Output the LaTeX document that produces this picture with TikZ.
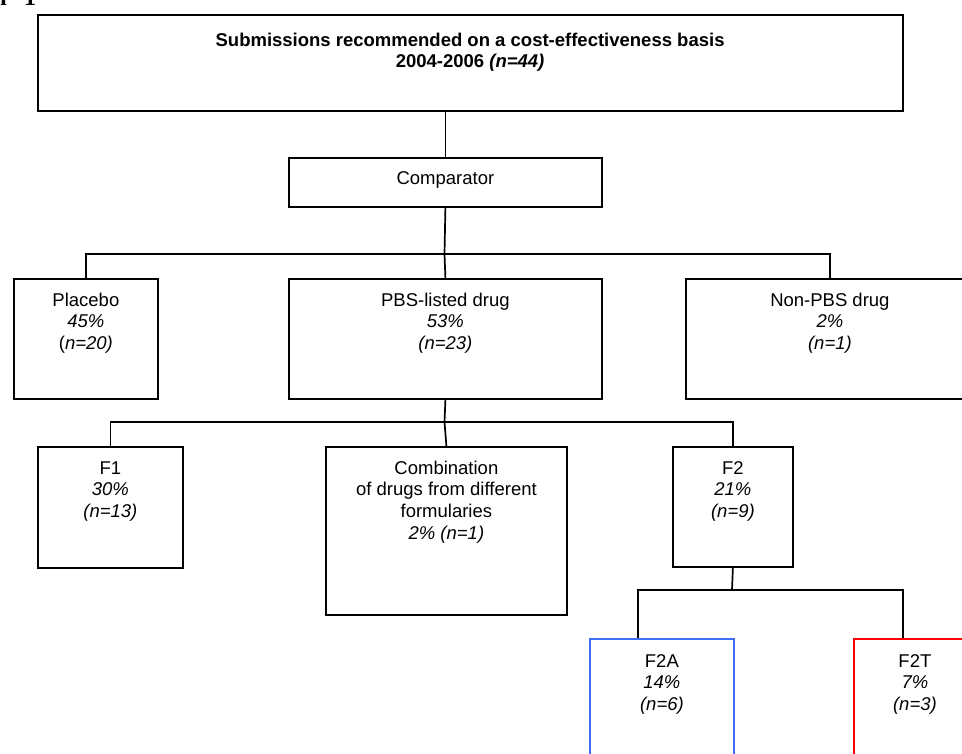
\documentclass[tikz,border=0pt]{standalone}
\usepackage{fontspec}
\setmainfont{Liberation Sans}
\newfontfamily\capfont{Liberation Serif}
\definecolor{boxblue}{HTML}{3F6EF5}
\definecolor{boxred}{HTML}{FF0000}
\newcommand{\mlines}[1]{\begin{tabular}[t]{@{}c@{}}#1\end{tabular}}
\begin{document}
\begin{tikzpicture}[x=1pt,y=-1pt,
  box/.style={draw=black,line width=1.8pt,rectangle,anchor=north west,inner sep=0pt},
  lbl/.style={font=\fontsize{18.5}{21.7}\selectfont,anchor=base,inner sep=0pt},
  conn/.style={draw=black,line width=1.7pt}]
\useasboundingbox (0,0) rectangle (962,753);
% cropped caption
\node[anchor=base east,inner sep=0pt] (cap) at (36.4,5) {\capfont\bfseries\fontsize{24}{24}\selectfont n\hspace{17.6pt}1};
% boxes
\node[box,minimum width=865pt,minimum height=96pt] (top) at (36.7,14) {};
\node[box,minimum width=313pt,minimum height=49pt] (comp) at (288,157) {};
\node[box,minimum width=144pt,minimum height=120pt] (plac) at (13,278) {};
\node[box,minimum width=313pt,minimum height=120pt] (pbs) at (288,278) {};
\node[box,minimum width=288pt,minimum height=120pt] (npbs) at (685,278) {};
\node[box,minimum width=145pt,minimum height=121pt] (f1) at (37,446) {};
\node[box,minimum width=241pt,minimum height=168pt] (comb) at (325,446) {};
\node[box,minimum width=120pt,minimum height=120pt] (f2) at (672,446) {};
\node[box,draw=boxblue,minimum width=144pt,minimum height=140pt] (f2a) at (589,638) {};
\node[box,draw=boxred,minimum width=122pt,minimum height=140pt] (f2t) at (853,638) {};
% texts
\node[lbl,font=\fontsize{18.5}{21}\selectfont\bfseries] (ttop) at ([yshift=-32pt]top.north) {\mlines{Submissions recommended on a cost-effectiveness basis\\2004-2006 \textit{(n=44)}}};
\node[lbl] (tcomp) at ([yshift=-27pt]comp.north) {Comparator};
\node[lbl] (tplac) at ([yshift=-28pt]plac.north) {\mlines{Placebo\\\textit{45\%}\\(\textit{n=20)}}};
\node[lbl] (tpbs) at ([yshift=-28pt]pbs.north) {\mlines{PBS-listed drug\\\textit{53\%}\\\textit{(n=23)}}};
\node[lbl] (tnpbs) at ([yshift=-28pt]npbs.north) {\mlines{Non-PBS drug\\\textit{2\%}\\\textit{(n=1)}}};
\node[lbl] (tf1) at ([yshift=-28pt]f1.north) {\mlines{F1\\\textit{30\%}\\\textit{(n=13)}}};
\node[lbl] (tcomb) at ([yshift=-28pt]comb.north) {\mlines{Combination\\of drugs from different\\formularies\\\textit{2\% (n=1)}}};
\node[lbl] (tf2) at ([yshift=-28pt]f2.north) {\mlines{F2\\\textit{21\%}\\\textit{(n=9)}}};
\node[lbl] (tf2a) at ([yshift=-29pt]f2a.north) {\mlines{F2A\\\textit{14\%}\\\textit{(n=6)}}};
\node[lbl] (tf2t) at ([yshift=-29pt]f2t.north) {\mlines{F2T\\\textit{7\%}\\\textit{(n=3)}}};
% junctions
\coordinate (b1) at (444.5,254);
\coordinate (b2) at (444.5,422);
\coordinate (b3) at (732,590);
\coordinate (f2aT) at ([xshift=-24pt]f2a.north);
\coordinate (f2tT) at ([xshift=-12pt]f2t.north);
% connectors
\draw[conn] (comp.north |- top.south) -- (comp.north);
\draw[conn] (comp.south) -- (b1);
\draw[conn] (plac.north) -- (plac.north |- b1) -- (npbs.north |- b1) -- (npbs.north);
\draw[conn] (b1) -- (pbs.north);
\draw[conn] (pbs.south) -- (b2);
\draw[conn] (f1.north) -- (f1.north |- b2) -- (f2.north |- b2) -- (f2.north);
\draw[conn] (b2) -- (comb.north);
\draw[conn] (f2.south) -- (b3);
\draw[conn] (f2aT) -- (f2aT |- b3) -- (f2tT |- b3) -- (f2tT);
\end{tikzpicture}
\end{document}
